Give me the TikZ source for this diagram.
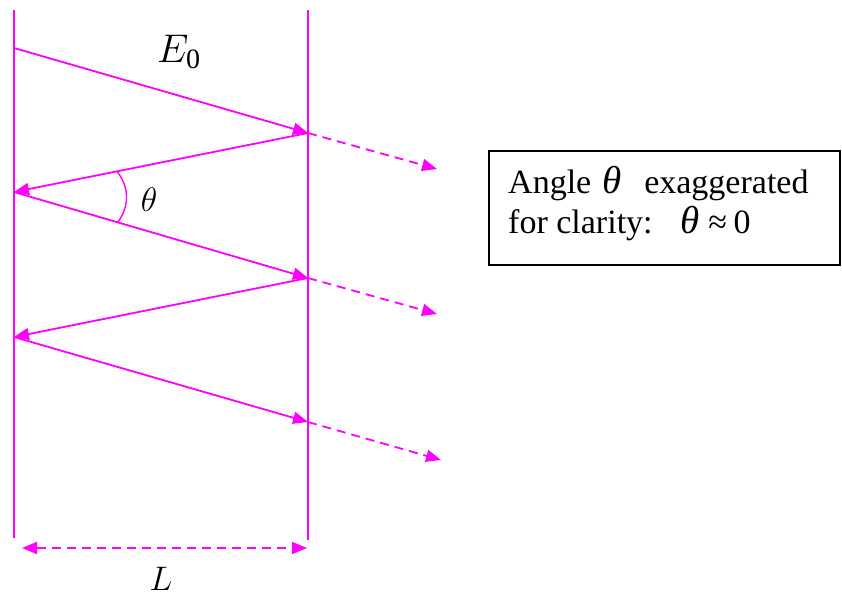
\documentclass[tikz,border=0pt]{standalone}
\usepackage{fix-cm}
\usepackage{fontspec}
\setmainfont{Liberation Serif}
\usetikzlibrary{arrows.meta,calc}
\definecolor{mag}{RGB}{255,0,255}
\newcommand{\bigth}{{\fontsize{39}{40}\selectfont\itshape θ}}
\begin{document}
\begin{tikzpicture}[x=1pt,y=-1pt,
  wall/.style={draw=mag,line width=1.6pt},
  ray/.style={draw=mag,line width=1.8pt,-{Triangle[length=15pt,width=12pt]}},
  leak/.style={ray,dash pattern=on 9pt off 6pt},
  dimline/.style={draw=mag,line width=1.8pt,dash pattern=on 9pt off 6pt,{Triangle[length=15pt,width=12pt]}-{Triangle[length=15pt,width=12pt]}},
  lbl/.style={inner sep=0pt},
  boxtext/.style={anchor=base west,inner sep=0pt,font=\fontsize{34}{40}\selectfont}]
\useasboundingbox (0,0) rectangle (842,595);
% walls
\coordinate (LT) at (14,10);
\coordinate (LB) at (14,538);
\coordinate (RT) at (308,10);
\coordinate (RB) at (308,540);
\draw[wall] (LT) -- (LB);
\draw[wall] (RT) -- (RB);
% reflection points
\coordinate (S)  at (14,48);
\coordinate (R1) at (308,133);
\coordinate (L1) at (14,192);
\coordinate (R2) at (308,278);
\coordinate (L2) at (14,337);
\coordinate (R3) at (308,422);
% leaks
\coordinate (D1) at (437,169);
\coordinate (D2) at (437,314);
\coordinate (D3) at (441,460);
\draw[ray] (S) -- (R1);
\draw[ray] (R1) -- (L1);
\draw[ray] (L1) -- (R2);
\draw[ray] (R2) -- (L2);
\draw[ray] (L2) -- (R3);
\draw[leak] (R1) -- (D1);
\draw[leak] (R2) -- (D2);
\draw[leak] (R3) -- (D3);
% angle arc
\coordinate (A1) at ($(L1)!105pt!(R1)$);
\coordinate (A2) at ($(L1)!108pt!(R2)$);
\draw[mag,line width=1.4pt] (A1) to[bend left=38] (A2);
% dimension
\coordinate (DA) at (22,548);
\coordinate (DB) at (307,548);
\draw[dimline] (DA) -- (DB);
% labels
\node[lbl,anchor=base west] (E0) at (157,62) {\fontsize{40}{48}\selectfont $E_{\mathrm{\scriptstyle 0}}$};
\node[lbl] (th) at (149,200) {\fontsize{34}{40}\selectfont $\theta$};
\node[lbl,anchor=base] (Lab) at (161,590) {\fontsize{34}{40}\selectfont $L$};
% box
\node[draw=black,line width=1.5pt,minimum width=351pt,minimum height=114pt,
      inner sep=0pt,anchor=north west] (box) at (488,150) {};
\node[boxtext] (t1) at (508,193)
  {Angle\hspace{6pt}\makebox[30pt][c]{\bigth}\hspace{17pt}exaggerated};
\node[boxtext] (t2) at (508,233)
  {for clarity:\hspace{26pt}\makebox[23pt][c]{\bigth}\hspace{6pt}\makebox[20pt][c]{≈}\hspace{6pt}0};
\end{tikzpicture}
\end{document}
